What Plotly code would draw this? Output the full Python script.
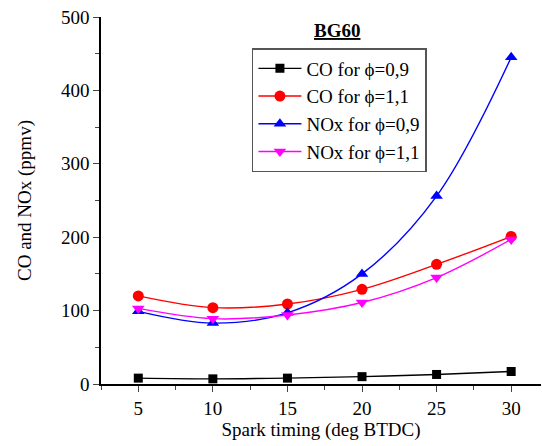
import plotly.graph_objects as go

spark_timing = [5, 10, 15, 20, 25, 30]
co_phi09 = [8, 7, 8, 10, 13, 17]
co_phi11 = [120, 104, 109, 129, 163, 201]
nox_phi09 = [99, 83, 97, 150, 256, 445]
nox_phi11 = [103, 89, 94, 111, 145, 197]

series = [
    ("CO for \u03d5=0,9", co_phi09, "black", "square", 9),
    ("CO for \u03d5=1,1", co_phi11, "red", "circle", 11),
    ("NOx for \u03d5=0,9", nox_phi09, "blue", "triangle-up", 11),
    ("NOx for \u03d5=1,1", nox_phi11, "magenta", "triangle-down", 11),
]

fig = go.Figure()
for name, vals, color, sym, size in series:
    fig.add_trace(go.Scatter(
        x=spark_timing, y=vals, name=name, mode="lines+markers",
        line=dict(color=color, width=1.4, shape="spline", smoothing=1.0),
        marker=dict(color=color, symbol=sym, size=size),
    ))

font = "Liberation Serif, Times New Roman, serif"
fig.update_layout(
    width=542, height=446,
    margin=dict(l=101, r=1, t=17, b=62),
    paper_bgcolor="white", plot_bgcolor="white",
    font=dict(family=font, size=19, color="black"),
    showlegend=True,
    legend=dict(
        x=0.343, y=0.9155, xanchor="left", yanchor="top",
        bordercolor="#555", borderwidth=1.5,
        font=dict(family=font, size=19, color="black"),
        itemwidth=43, tracegroupgap=0,
    ),
    annotations=[dict(
        text="<b><u>BG60</u></b>", x=0.537, y=0.962, xref="paper", yref="paper",
        xanchor="center", yanchor="middle", showarrow=False,
        font=dict(family=font, size=19, color="black"),
    )],
)
fig.update_xaxes(
    range=[2.5, 32], tickvals=spark_timing, ticks="outside", ticklen=6,
    showline=True, linecolor="black", linewidth=1.5, showgrid=False, zeroline=False,
    minor=dict(ticks="outside", ticklen=4, dtick=2.5, tick0=2.5, showgrid=False),
    title=dict(text="Spark timing (deg BTDC)", font=dict(size=19), standoff=3),
    tickfont=dict(size=19),
)
fig.update_yaxes(
    range=[0, 500], dtick=100, ticks="outside", ticklen=6,
    showline=True, linecolor="black", linewidth=1.5, showgrid=False, zeroline=False,
    minor=dict(ticks="outside", ticklen=4, dtick=50, showgrid=False),
    title=dict(text="CO and NOx (ppmv)", font=dict(size=19), standoff=24),
    tickfont=dict(size=19),
)
fig.write_html("out.html")
